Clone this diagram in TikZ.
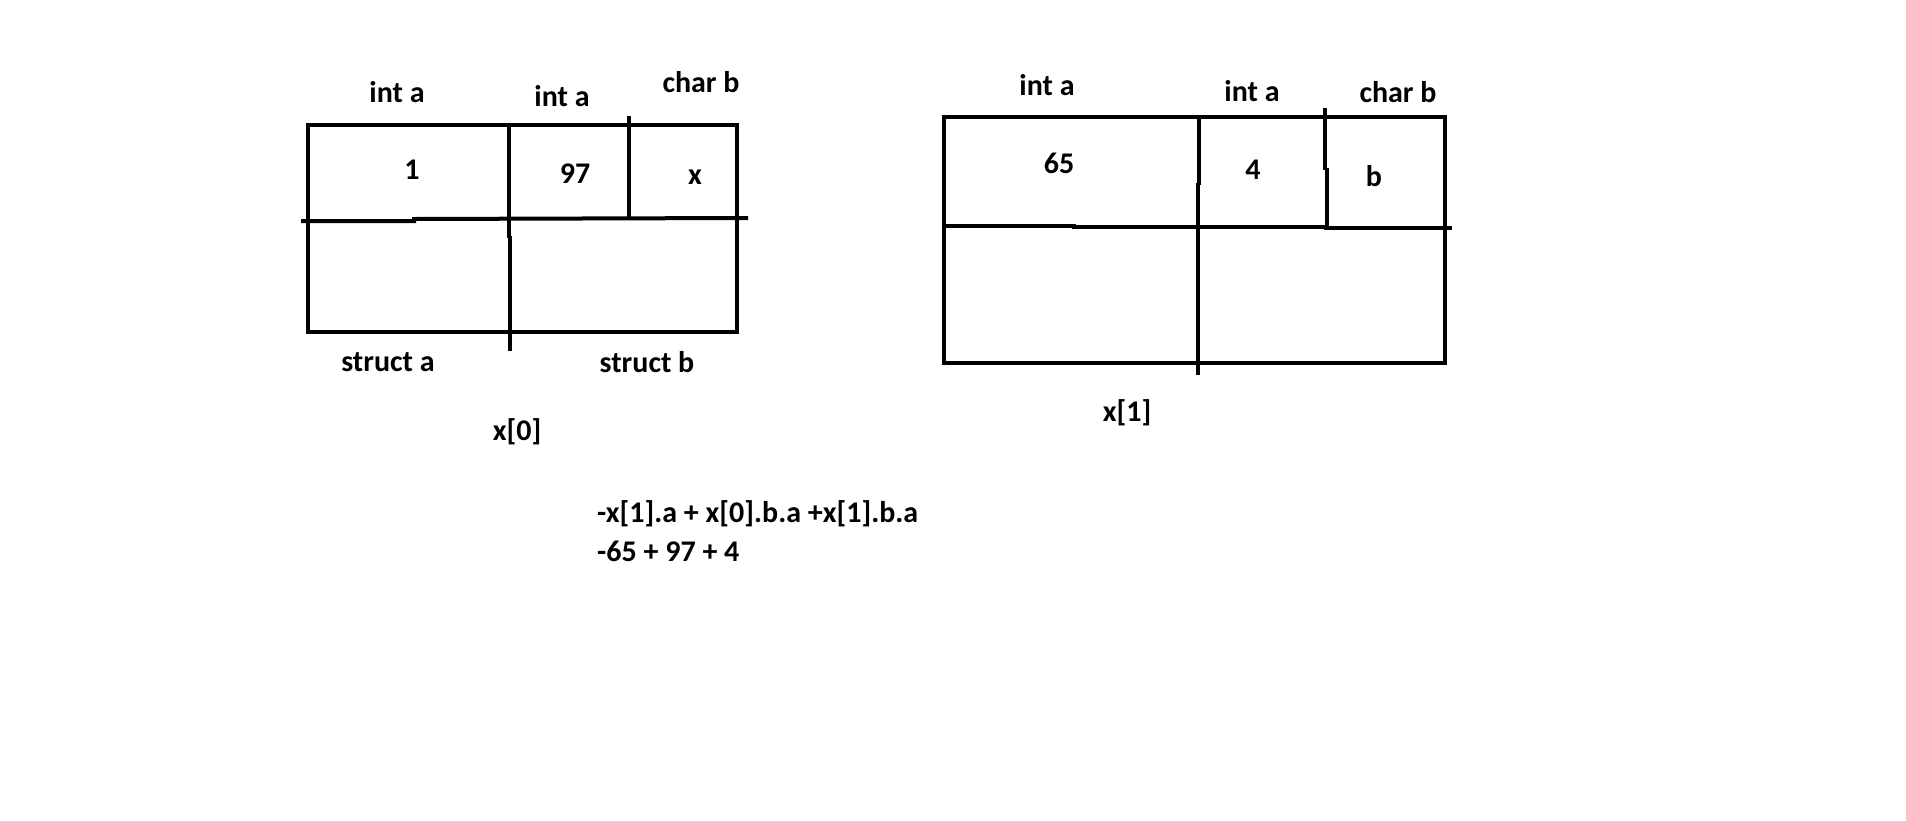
\documentclass[tikz,border=0pt]{standalone}
\usepackage{fontspec}
\setmainfont{Carlito}
\begin{document}
\begin{tikzpicture}[x=1pt,y=-1pt,
  ln/.style={line width=4pt, line cap=rect},
  lbl/.style={font=\fontsize{30}{36}\selectfont\bfseries, inner sep=0pt, anchor=center},
  lbll/.style={font=\fontsize{30}{36}\selectfont\bfseries, inner sep=0pt, anchor=west}]
\useasboundingbox[fill=white] (0,0) rectangle (1906,820);
% left: x[0]
\draw[ln] (308,125) rectangle (737,332);
\draw[ln] (303,221) -- (414,221) -- (414,219) -- (746,218);
\draw[ln] (509,125) -- (509,236);
\draw[ln] (510,238) -- (510,349);
\draw[ln] (629,118) -- (629,218);
% right: x[1]
\draw[ln] (944,117) rectangle (1445,363);
\draw[ln] (947,226) -- (1074,226) -- (1074,227) -- (1326,227) -- (1326,228) -- (1450,228);
\draw[ln] (1199,117) -- (1199,183);
\draw[ln] (1198,185) -- (1198,308);
\draw[ln] (1198,310) -- (1198,373);
\draw[ln] (1325,110) -- (1325,168);
\draw[ln] (1327,170) -- (1327,228);
% labels x[0]
\node[lbl] (la1) at (397,92) {int a};
\node[lbl] (la2) at (562,96) {int a};
\node[lbl] (lb) at (701,82) {char b};
\node[lbl] (v1) at (412,170) {1};
\node[lbl] (v97) at (575,174) {97};
\node[lbl] (vx) at (695,177) {x};
\node[lbl] (sa) at (388,362) {struct a};
\node[lbl] (sb) at (647,362) {struct b};
\node[lbl] (x0) at (517,432) {x[0]};
% labels x[1]
\node[lbl] (ra1) at (1047,85) {int a};
\node[lbl] (ra2) at (1252,91) {int a};
\node[lbl] (rb) at (1398,92) {char b};
\node[lbl] (v65) at (1059,163) {65};
\node[lbl] (v4) at (1253,170) {4};
\node[lbl] (vb) at (1374,176) {b};
\node[lbl] (x1) at (1127,413) {x[1]};
% expression
\node[lbll] (e1) at (597,514) {-x[1].a + x[0].b.a +x[1].b.a};
\node[lbll] (e2) at (597,551) {-65 + 97 + 4};
\end{tikzpicture}
\end{document}
